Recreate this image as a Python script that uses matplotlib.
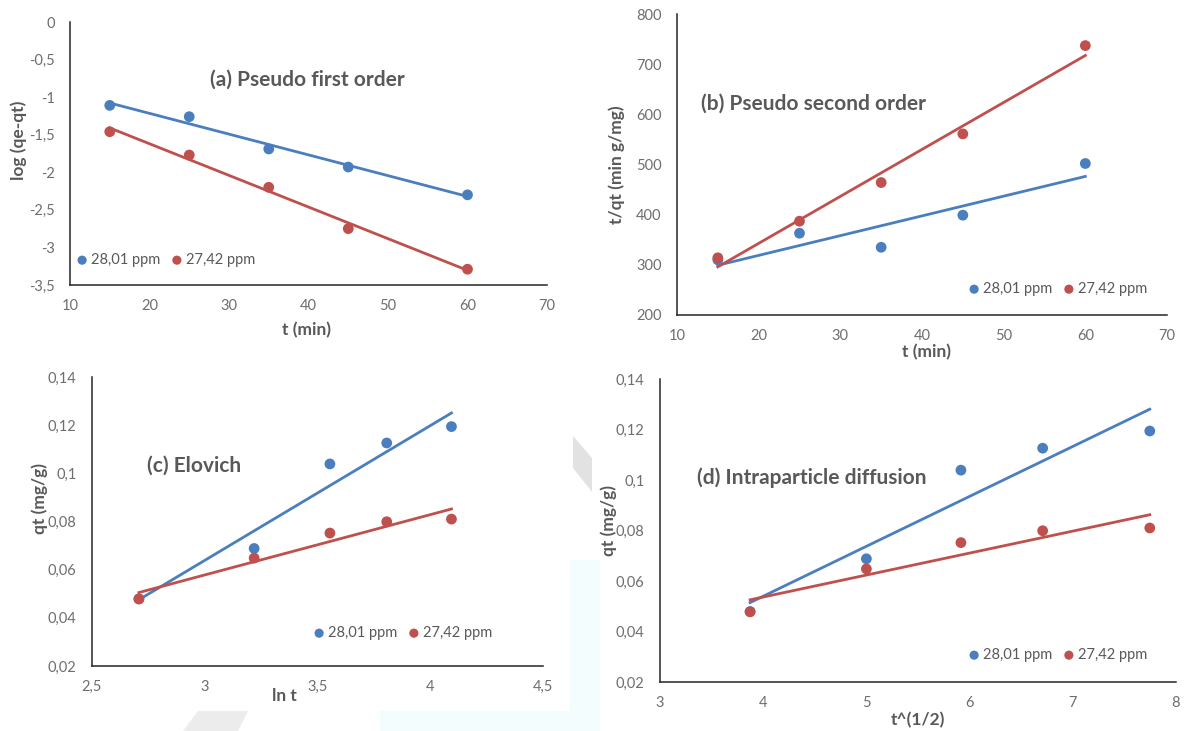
import numpy as np
import matplotlib
matplotlib.use("Agg")
import matplotlib.pyplot as plt
from matplotlib.patches import Polygon

# ---------------- data ----------------
t_min = [15, 25, 35, 45, 60]
ln_t = [2.708, 3.219, 3.555, 3.807, 4.094]
sqrt_t = [3.873, 5.0, 5.916, 6.708, 7.746]

series_names = ["28,01 ppm", "27,42 ppm"]

log_qe_qt_blue = [-1.11, -1.26, -1.69, -1.93, -2.30]
log_qe_qt_red = [-1.46, -1.77, -2.20, -2.75, -3.29]

t_over_qt_blue = [310, 363, 335, 399, 502]
t_over_qt_red = [314, 387, 464, 561, 737]

qt_blue = [0.0479, 0.0688, 0.1039, 0.1126, 0.1194]
qt_red = [0.0478, 0.0648, 0.0752, 0.0799, 0.0810]

# ---------------- style ----------------
plt.rcParams['font.family'] = ['Lato', 'DejaVu Sans']
BLUE = "#4A7EBF"
RED = "#C0504D"
GREY = "#595959"
TICK_GREY = "#6E6E6E"
W, H = 1192, 731

fig = plt.figure(figsize=(W / 100, H / 100), dpi=100)
fig.patch.set_facecolor("white")


def px(x, y):
    """pixel (top-left origin) -> figure fraction"""
    return x / W, 1 - y / H


def poly(points, color):
    pts = [px(x, y) for x, y in points]
    fig.patches.append(Polygon(pts, closed=True, transform=fig.transFigure,
                               facecolor=color, edgecolor="none", zorder=0))


# faint background artefacts
poly([(573, 436), (592, 458), (592, 492), (573, 468)], "#E2E2E2")
poly([(183, 731), (238, 731), (248, 711), (198, 711)], "#ECECEC")
poly([(380, 731), (600, 731), (600, 560), (570, 560), (570, 711), (380, 711)], "#F3FDFD")


def make_axes(x0, y0, x1, y1):
    return fig.add_axes([x0 / W, 1 - y1 / H, (x1 - x0) / W, (y1 - y0) / H])


def comma(v):
    return ("%g" % v).replace(".", ",")


def style(ax, xlim, ylim, xticks, yticks, xpad=10):
    ax.set_facecolor("none")
    ax.set_xlim(*xlim)
    ax.set_ylim(*ylim)
    ax.set_xticks(xticks)
    ax.set_yticks(yticks)
    ax.set_xticklabels([comma(v) for v in xticks])
    ax.set_yticklabels([comma(v) for v in yticks])
    for s in ["top", "right"]:
        ax.spines[s].set_visible(False)
    for s in ["left", "bottom"]:
        ax.spines[s].set_color("#262626")
        ax.spines[s].set_linewidth(1.1)
    ax.tick_params(length=0, labelsize=10.5, labelcolor=TICK_GREY)
    ax.tick_params(axis="y", pad=11)
    ax.tick_params(axis="x", pad=xpad)


def plot_series(ax, x, yb, yr):
    x = np.asarray(x, float)
    for y, c, lab in [(yb, BLUE, series_names[0]), (yr, RED, series_names[1])]:
        y = np.asarray(y, float)
        ax.scatter(x, y, s=60, color=c, zorder=3, label=lab, edgecolors="none")
        p = np.polyfit(x, y, 1)
        xx = np.array([x.min(), x.max()])
        ax.plot(xx, np.polyval(p, xx), color=c, lw=2.0, zorder=2)


def legend(ax, x, y):
    ax.legend(loc="center left", bbox_to_anchor=px(x, y), bbox_transform=fig.transFigure,
              ncol=2, frameon=False, fontsize=10.5, handlelength=0.7,
              handletextpad=0.25, columnspacing=0.8, borderpad=0, borderaxespad=0,
              markerscale=0.85, labelcolor=GREY)


lab_kw = dict(fontsize=12.5, fontweight="bold", color=GREY, ha="center", va="center")
title_kw = dict(fontsize=15, fontweight="bold", color=GREY, va="center")


def labels(ax, xl, xpos, yl, ypos):
    ax.set_xlabel(xl, **lab_kw)
    ax.set_ylabel(yl, **lab_kw)
    ax.xaxis.set_label_coords(*px(*xpos), transform=fig.transFigure)
    ax.yaxis.set_label_coords(*px(*ypos), transform=fig.transFigure)


# (a)
ax = make_axes(70, 22, 547, 285)
plot_series(ax, t_min, log_qe_qt_blue, log_qe_qt_red)
style(ax, (10, 70), (-3.5, 0), [10, 20, 30, 40, 50, 60, 70],
      [0, -0.5, -1, -1.5, -2, -2.5, -3, -3.5])
labels(ax, "t (min)", (307, 330), "log (qe-qt)", (19, 140))
fig.text(*px(210, 80), "(a) Pseudo first order", ha="left", **title_kw)
legend(ax, 77, 260)

# (b)
ax = make_axes(677, 14, 1167, 315)
plot_series(ax, t_min, t_over_qt_blue, t_over_qt_red)
style(ax, (10, 70), (200, 800), [10, 20, 30, 40, 50, 60, 70],
      [200, 300, 400, 500, 600, 700, 800])
labels(ax, "t (min)", (927, 352), "t/qt (min g/mg)", (617, 165))
fig.text(*px(701, 104), "(b) Pseudo second order", ha="left", **title_kw)
legend(ax, 969, 289)

# (c)
ax = make_axes(92, 377, 543, 666)
plot_series(ax, ln_t, qt_blue, qt_red)
style(ax, (2.5, 4.5), (0.02, 0.14), [2.5, 3, 3.5, 4, 4.5],
      [0.02, 0.04, 0.06, 0.08, 0.1, 0.12, 0.14], xpad=10)
labels(ax, "ln t", (284, 696), "qt (mg/g)", (40, 498))
fig.text(*px(147, 466), "(c) Elovich", ha="left", **title_kw)
legend(ax, 314, 633)

# (d)
ax = make_axes(660, 379, 1176, 682)
plot_series(ax, sqrt_t, qt_blue, qt_red)
style(ax, (3, 8), (0.02, 0.14), [3, 4, 5, 6, 7, 8],
      [0.02, 0.04, 0.06, 0.08, 0.1, 0.12, 0.14])
labels(ax, "t^(1/2)", (918, 720), "qt (mg/g)", (609, 520))
fig.text(*px(697, 478), "(d) Intraparticle diffusion", ha="left", **title_kw)
legend(ax, 969, 655)

fig.savefig("out.png", dpi=100, facecolor="white")
